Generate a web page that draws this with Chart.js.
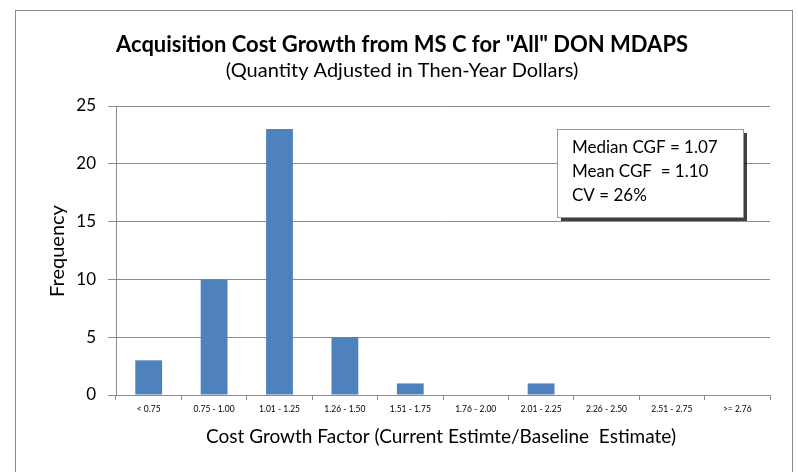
<!DOCTYPE html>
<html>
<head>
<meta charset="utf-8">
<script src="https://cdn.jsdelivr.net/npm/chart.js@4"></script>
<style>
html,body{margin:0;padding:0;background:#fff;}
#wrap{width:798px;height:472px;position:relative;}
</style>
</head>
<body>
<div id="wrap"><canvas id="c" width="798" height="472"></canvas></div>
<script>
const categories = ["< 0.75","0.75 - 1.00","1.01 - 1.25","1.26 - 1.50","1.51 - 1.75","1.76 - 2.00","2.01 - 2.25","2.26 - 2.50","2.51 - 2.75",">= 2.76"];
const frequency = [3,10,23,5,1,0,1,0,0,0];
const yTicks = [0,5,10,15,20,25];
const titleText = 'Acquisition Cost Growth from MS C for "All" DON MDAPS';
const subtitleText = '(Quantity Adjusted in Then-Year Dollars)';
const xTitleText = 'Cost Growth Factor (Current Estimte/Baseline  Estimate)';
const yTitleText = 'Frequency';
const statLines = ['Median CGF = 1.07','Mean CGF  = 1.10','CV = 26%'];

const FONT = 'Lato, "Liberation Sans", sans-serif';

const decor = {
  id:'decor',
  beforeDraw(chart){
    const ctx = chart.ctx;
    ctx.save();
    ctx.fillStyle='#fff';
    ctx.fillRect(0,0,chart.width,chart.height);
    ctx.strokeStyle='#8a8a8a';
    ctx.lineWidth=1;
    ctx.strokeRect(15.5,10.5,777,480);
    ctx.restore();
  },
  afterDraw(chart){
    const ctx = chart.ctx;
    ctx.save();
    ctx.fillStyle='#000';
    ctx.textAlign='center';
    ctx.textBaseline='middle';
    ctx.font='bold 22px '+FONT;
    ctx.fillText(titleText,402,45);
    ctx.font='20px '+FONT;
    ctx.fillText(subtitleText,402,71);
    ctx.font='19px '+FONT;
    ctx.fillText(xTitleText,441,437);
    ctx.save();
    ctx.translate(58,251);
    ctx.rotate(-Math.PI/2);
    ctx.font='20px '+FONT;
    ctx.fillText(yTitleText,0,0);
    ctx.restore();
    // stats box
    const bx=557, by=129, bw=186, bh=88;
    ctx.fillStyle='rgba(0,0,0,0.75)';
    ctx.fillRect(bx+4,by+4,bw,bh);
    ctx.fillStyle='#fff';
    ctx.fillRect(bx,by,bw,bh);
    ctx.strokeStyle='#9a9a9a';
    ctx.lineWidth=1;
    ctx.strokeRect(bx+0.5,by+0.5,bw,bh);
    ctx.fillStyle='#000';
    ctx.textAlign='left';
    ctx.font='17px '+FONT;
    statLines.forEach((t,i)=>ctx.fillText(t,572,148+i*24));
    ctx.restore();
  }
};

new Chart(document.getElementById('c'),{
  type:'bar',
  data:{labels:categories,datasets:[{data:frequency,backgroundColor:'#4F81BD',borderWidth:0,barPercentage:0.41,categoryPercentage:1}]},
  options:{
    responsive:false,animation:false,
    layout:{padding:{left:15,right:28,top:106,bottom:0}},
    plugins:{legend:{display:false},tooltip:{enabled:false},title:{display:false}},
    scales:{
      x:{
        grid:{display:true,drawOnChartArea:false,offset:true,color:'#8c8c8c',tickLength:5,tickWidth:1},
        border:{color:'#8c8c8c',width:1},
        ticks:{color:'#000',font:{family:FONT,size:8.5},padding:4,maxRotation:0,autoSkip:false},
        afterFit(s){s.height=77;}
      },
      y:{
        min:0,max:25,
        afterBuildTicks(s){s.ticks=yTicks.map(v=>({value:v}));},
        grid:{color:'#8c8c8c',tickLength:8,lineWidth:1},
        border:{color:'#8c8c8c',width:1},
        ticks:{color:'#000',font:{family:FONT,size:17},padding:12},
        afterFit(s){s.width=101;}
      }
    }
  },
  plugins:[decor]
});
</script>
</body>
</html>
